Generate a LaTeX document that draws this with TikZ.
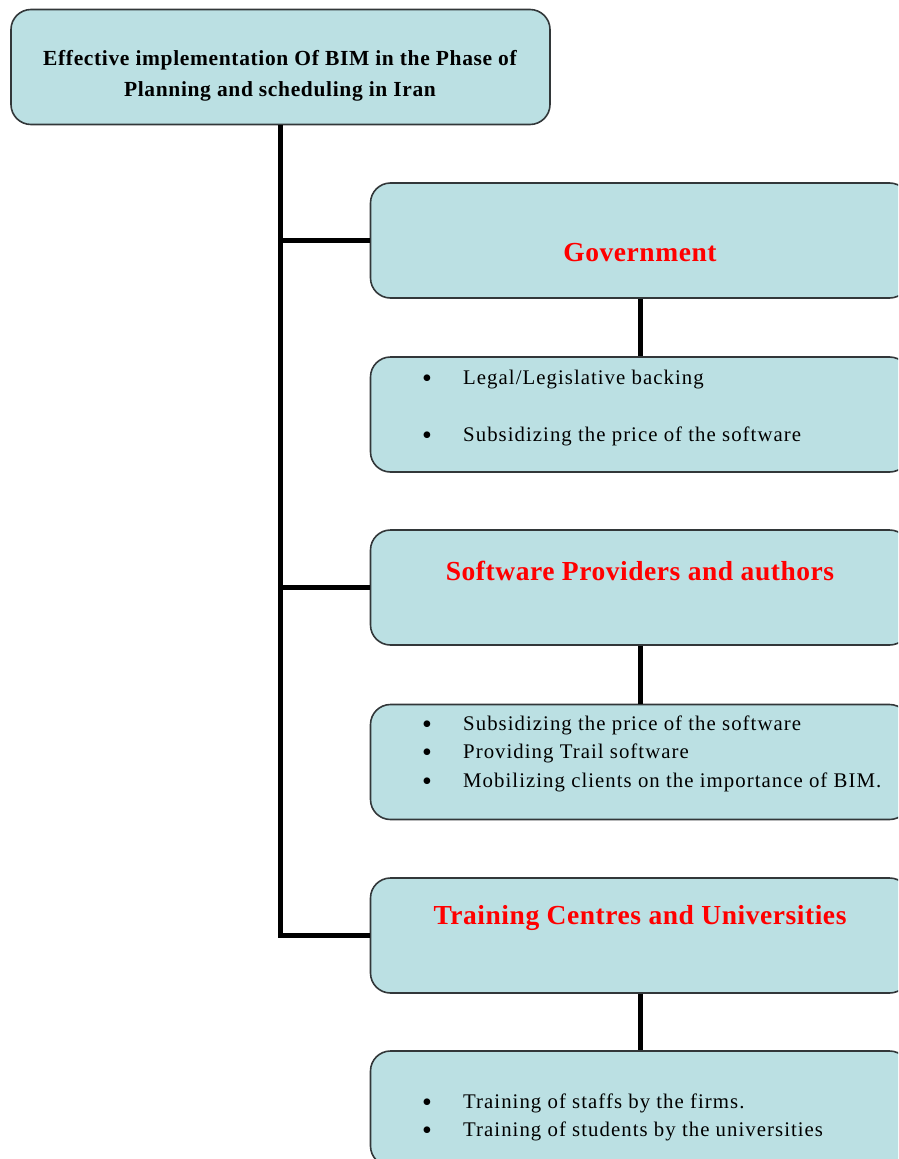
\documentclass[tikz,border=0pt]{standalone}
\usepackage{fontspec}
\setmainfont{Liberation Serif}
\definecolor{boxfill}{RGB}{187,224,227}
\definecolor{boxline}{RGB}{50,55,57}
\definecolor{titlered}{RGB}{255,0,0}
\begin{document}
\begin{tikzpicture}[x=1pt,y=-1pt,
  box/.style={draw=boxline, line width=1.6pt, fill=boxfill, rounded corners=20pt,
    minimum width=539pt, minimum height=115pt, inner sep=0pt},
  conn/.style={line width=5pt, black},
  head/.style={font=\fontsize{27.5}{30}\selectfont\bfseries\addfontfeature{LetterSpace=2}, text=titlered, inner sep=0pt},
  toptext/.style={font=\fontsize{21.5}{31}\selectfont\bfseries\addfontfeature{LetterSpace=3}, align=center, inner sep=0pt},
  item/.style={font=\fontsize{20.8}{24}\selectfont\addfontfeature{LetterSpace=5}, anchor=west, inner sep=0pt, text height=.7em, text depth=.25em},
  dot/.style={font=\fontsize{28}{30}\selectfont, inner sep=0pt, text height=.5em, text depth=0em}]
\useasboundingbox (0,0) rectangle (898,1159);
\clip (0,0) rectangle (898,1159);

% boxes
\node[box] (top) at (280.5,67) {};
\node[box] (gov) at (640,240.5) {};
\node[box] (govsub) at (640,414.5) {};
\node[box] (sw) at (640,587.5) {};
\node[box] (swsub) at (640,762) {};
\node[box] (tr) at (640,935.5) {};
\node[box] (trsub) at (640,1108.5) {};

% connectors
\draw[conn] (top.south) -- (top.south |- tr.west) -- (tr.west);
\draw[conn] (top.south |- gov.west) -- (gov.west);
\draw[conn] (top.south |- sw.west) -- (sw.west);
\draw[conn] (gov.south) -- (govsub.north);
\draw[conn] (sw.south) -- (swsub.north);
\draw[conn] (tr.south) -- (trsub.north);

% texts
\node[toptext] (toplbl) at (280,76) {Effective implementation Of BIM in the Phase of\\Planning and scheduling in Iran};
\node[head] (govlbl) at (640,253) {Government};
\node[head] (swlbl) at (640,571) {Software Providers and authors};
\node[head] (trlbl) at (640,918) {Training Centres and Universities};

\node[dot] (gb1) at (427,385) {•};
\node[item] (gi1) at (463,382) {Legal/Legislative backing};
\node[dot] (gb2) at (427,442) {•};
\node[item] (gi2) at (463,439) {Subsidizing the price of the software};

\node[dot] (sb1) at (427,731) {•};
\node[item] (si1) at (463,728) {Subsidizing the price of the software};
\node[dot] (sb2) at (427,759) {•};
\node[item] (si2) at (463,756) {Providing Trail software};
\node[dot] (sb3) at (427,788) {•};
\node[item] (si3) at (463,785) {Mobilizing clients on the importance of BIM.};

\node[dot] (tb1) at (427,1109) {•};
\node[item] (ti1) at (463,1106) {Training of staffs by the firms.};
\node[dot] (tb2) at (427,1137) {•};
\node[item] (ti2) at (463,1134) {Training of students by the universities};
\end{tikzpicture}
\end{document}
